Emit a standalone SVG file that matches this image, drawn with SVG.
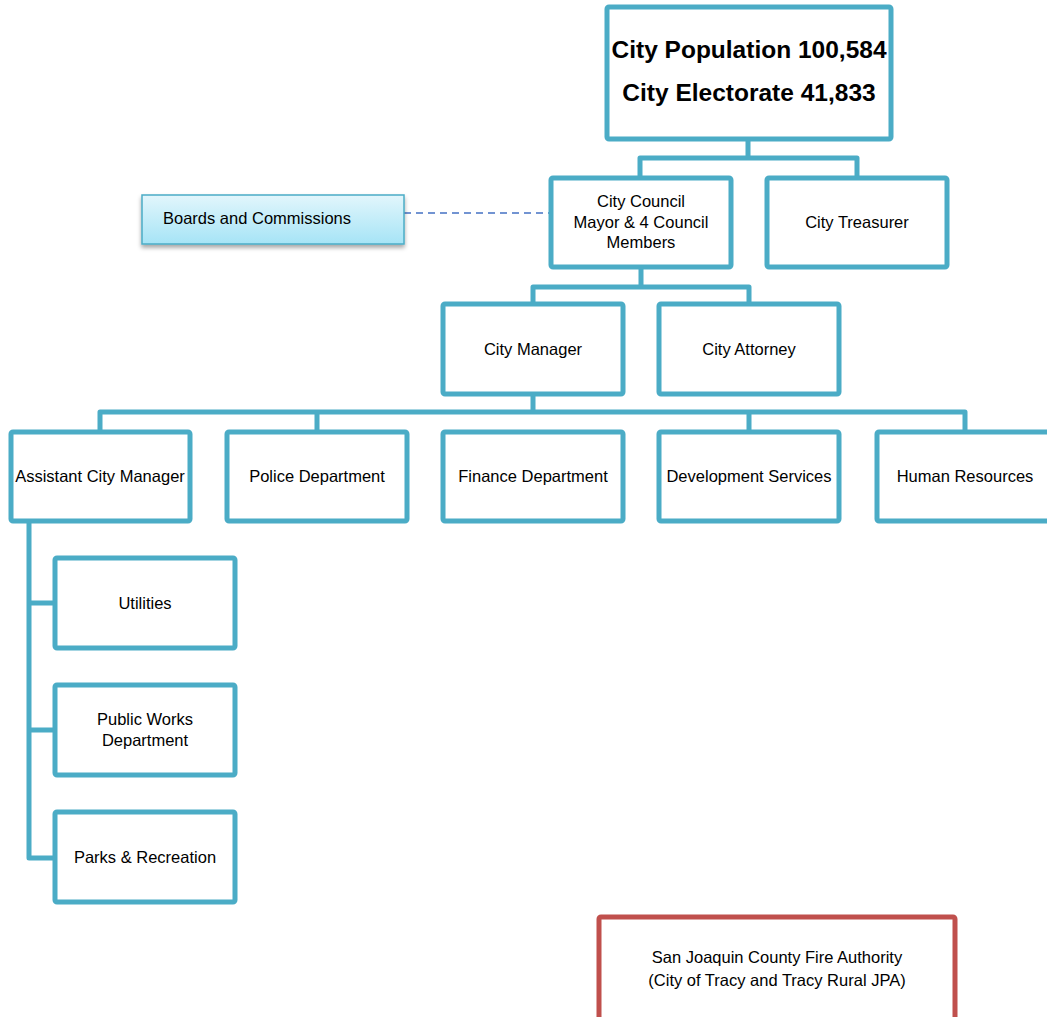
<svg xmlns="http://www.w3.org/2000/svg" width="1047" height="1017" viewBox="0 0 1047 1017">
<defs>
<style>
.box{fill:#fff;stroke:#4BACC6;stroke-width:5;stroke-linejoin:round}
.fire{fill:#fff;stroke:#C0504D;stroke-width:5;stroke-linejoin:round}
.con{fill:none;stroke:#4BACC6;stroke-width:5;stroke-linejoin:round}
.dash{fill:none;stroke:#4472C4;stroke-width:1.5;stroke-dasharray:7,5}
text{font-family:"Liberation Sans",Arial,sans-serif;font-size:16.5px;fill:#000;text-anchor:middle}
.big{font-size:24.5px;font-weight:bold}
</style>
<linearGradient id="bg" x1="0" y1="0" x2="0" y2="1">
<stop offset="0" stop-color="#E2F6FC"/>
<stop offset="1" stop-color="#A6E4F6"/>
</linearGradient>
<filter id="sh" x="-10%" y="-30%" width="120%" height="170%">
<feDropShadow dx="0" dy="3" stdDeviation="2" flood-color="#000" flood-opacity="0.35"/>
</filter>
</defs>
<g id="connectors">
<path class="con" d="M748,139 V158 M640,178 V158 H857 V178"/>
<path class="con" d="M641,267 V287 M533,304 V287 H749 V304"/>
<path class="con" d="M533,394 V412 M100,431 V412 H965 V431 M317,412 V431 M749,412 V431"/>
<path class="con" d="M29,521 V858 H55 M29,603 H55 M29,730 H55"/>
<path class="dash" d="M404,213 H551"/>
</g>
<g id="n-top"><rect class="box" x="607" y="7" width="284" height="132" rx="2"/>
<text class="big" x="749" y="58">City Population 100,584</text>
<text class="big" x="749" y="101">City Electorate 41,833</text></g>
<g id="n-boards"><rect x="142" y="195" width="262" height="49" fill="url(#bg)" stroke="#4BACC6" stroke-width="1.5" filter="url(#sh)"/>
<text x="257" y="224">Boards and Commissions</text></g>
<g id="n-council"><rect class="box" x="551" y="178" width="180" height="89" rx="2"/>
<text x="641" y="207">City Council</text><text x="641" y="228">Mayor &amp; 4 Council</text><text x="641" y="248">Members</text></g>
<g id="n-treasurer"><rect class="box" x="767" y="178" width="180" height="89" rx="2"/>
<text x="857" y="228">City Treasurer</text></g>
<g id="n-manager"><rect class="box" x="443" y="304" width="180" height="90" rx="2"/>
<text x="533" y="355">City Manager</text></g>
<g id="n-attorney"><rect class="box" x="659" y="304" width="180" height="90" rx="2"/>
<text x="749" y="355">City Attorney</text></g>
<g id="n-acm"><rect class="box" x="11" y="432" width="179" height="89" rx="2"/>
<text x="100" y="482">Assistant City Manager</text></g>
<g id="n-police"><rect class="box" x="227" y="432" width="180" height="89" rx="2"/>
<text x="317" y="482">Police Department</text></g>
<g id="n-finance"><rect class="box" x="443" y="432" width="180" height="89" rx="2"/>
<text x="533" y="482">Finance Department</text></g>
<g id="n-dev"><rect class="box" x="659" y="432" width="180" height="89" rx="2"/>
<text x="749" y="482">Development Services</text></g>
<g id="n-hr"><rect class="box" x="877" y="432" width="180" height="89" rx="2"/>
<text x="965" y="482">Human Resources</text></g>
<g id="n-util"><rect class="box" x="55" y="558" width="180" height="90" rx="2"/>
<text x="145" y="609">Utilities</text></g>
<g id="n-pw"><rect class="box" x="55" y="685" width="180" height="90" rx="2"/>
<text x="145" y="725">Public Works</text><text x="145" y="746">Department</text></g>
<g id="n-parks"><rect class="box" x="55" y="812" width="180" height="90" rx="2"/>
<text x="145" y="863">Parks &amp; Recreation</text></g>
<g id="n-fire"><rect class="fire" x="599" y="917" width="356" height="120" rx="2"/>
<text x="777" y="963">San Joaquin County Fire Authority</text>
<text x="777" y="986">(City of Tracy and Tracy Rural JPA)</text></g>
</svg>
